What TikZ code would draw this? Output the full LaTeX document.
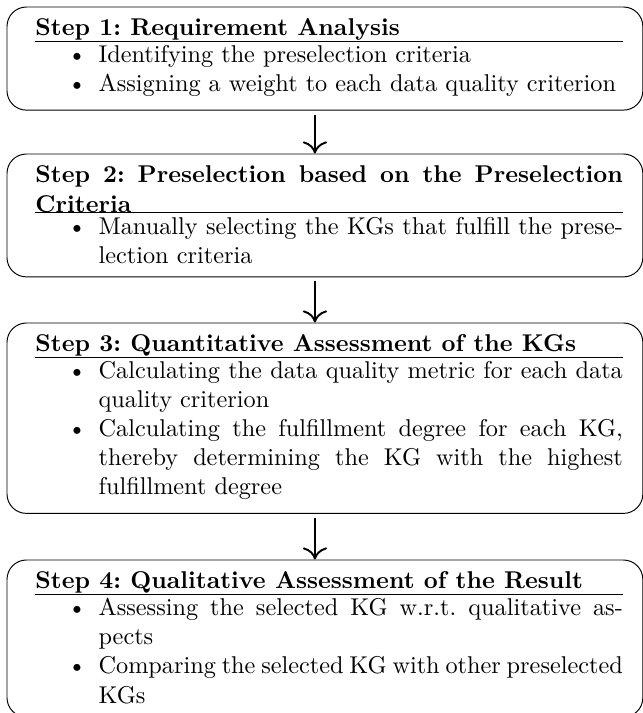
\documentclass[tikz,border=0pt]{standalone}
\usepackage{enumitem}
\usetikzlibrary{arrows.meta,fit}
\setlist[itemize]{nosep,leftmargin=26pt}
\frenchspacing

\begin{document}
\begin{tikzpicture}[x=0.412pt,y=-0.412pt,
  stepbox/.style={anchor=north west,inner sep=0pt,text width=242pt,align=justify},
  frame/.style={draw,rounded corners=8pt,inner sep=0pt},
  flow/.style={line width=0.8pt,-{To[length=5pt,width=10pt]}}]
\useasboundingbox (0,0) rectangle (642,713);
% Parameters
\def\textX{35}
\def\arrowOff{-10}

% Steps
\node[stepbox] (s1) at (\textX,18.5) {\textbf{Step 1: Requirement Analysis}\par\hrule\vspace{1.5pt}
\begin{itemize}
\item Identifying the preselection criteria
\item Assigning a weight to each data quality criterion
\end{itemize}};

\node[stepbox] (s2) at (\textX,165.5) {\textbf{Step 2: Preselection based on the Preselection Criteria}\par\hrule\vspace{1.5pt}
\begin{itemize}
\item Manually selecting the KGs that fulfill the prese\-lection criteria
\end{itemize}};

\node[stepbox] (s3) at (\textX,334.5) {\textbf{Step 3: Quantitative Assessment of the KGs}\par\hrule\vspace{1.5pt}
\begin{itemize}
\item Calculating the data quality metric for each data quality criterion
\item Calculating the fulfillment degree for each KG, thereby determining the KG with the highest\linebreak fulfillment degree
\end{itemize}};

\node[stepbox] (s4) at (\textX,571.5) {\textbf{Step 4: Qualitative Assessment of the Result}\par\hrule\vspace{1.5pt}
\begin{itemize}
\item Assessing the selected KG w.r.t. qualitative as\-pects
\item Comparing the selected KG with other preselected\linebreak KGs
\end{itemize}};

% Frames
\foreach \n in {1,...,4}
  \node[frame,fit={([shift={(-28,-11.5)}]s\n.north west) ([shift={(19.5,13)}]s\n.south east)}] (f\n) {};

% Arrows
\foreach \a/\b in {1/2,2/3,3/4}
  \draw[flow] ([shift={(\arrowOff,4)}]f\a.south) -- ([shift={(\arrowOff,0)}]f\b.north);
\end{tikzpicture}
\end{document}
